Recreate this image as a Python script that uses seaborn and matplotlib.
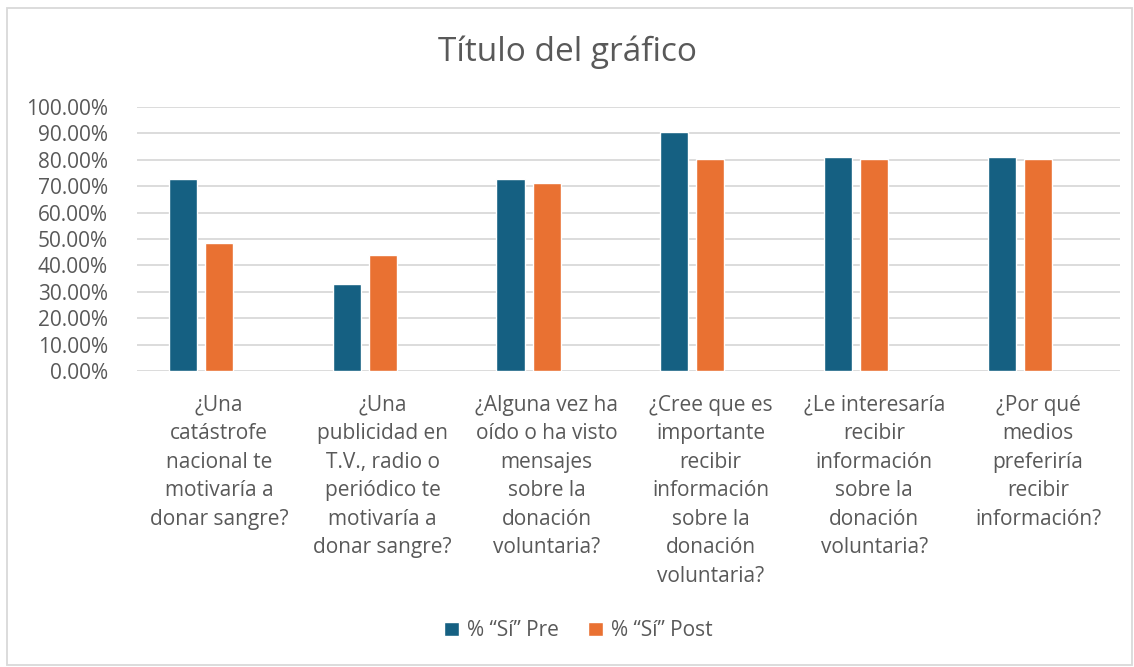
import pandas as pd
import matplotlib.pyplot as plt
import seaborn as sns
from matplotlib.ticker import FuncFormatter, MultipleLocator
from matplotlib.patches import Rectangle

# Data
preguntas = [
    "¿Una\ncatástrofe\nnacional te\nmotivaría a\ndonar sangre?",
    "¿Una\npublicidad en\nT.V., radio o\nperiódico te\nmotivaría a\ndonar sangre?",
    "¿Alguna vez ha\noído o ha visto\nmensajes\nsobre la\ndonación\nvoluntaria?",
    "¿Cree que es\nimportante\nrecibir\ninformación\nsobre la\ndonación\nvoluntaria?",
    "¿Le interesaría\nrecibir\ninformación\nsobre la\ndonación\nvoluntaria?",
    "¿Por qué\nmedios\npreferiría\nrecibir\ninformación?",
]
si_pre = [0.727, 0.330, 0.727, 0.905, 0.809, 0.809]
si_post = [0.485, 0.439, 0.712, 0.802, 0.802, 0.802]
series = ["% “Sí” Pre", "% “Sí” Post"]
# the Excel chart keeps an empty third series slot in every group
hue_order = series + ["(vacía)"]

df = pd.DataFrame({
    "pregunta": preguntas * 2,
    "valor": si_pre + si_post,
    "serie": [series[0]] * len(preguntas) + [series[1]] * len(preguntas),
})

sns.set_style("white")
plt.rcParams["font.family"] = ["Open Sans", "DejaVu Sans"]
text_color = "#595959"

fig = plt.figure(figsize=(11.34, 6.67), dpi=100)
ax = fig.add_axes([0.1208, 0.4438, 0.8669, 0.3958])

sns.barplot(data=df, x="pregunta", y="valor", hue="serie", hue_order=hue_order,
            palette=["#156082", "#E97132", "white"], saturation=1,
            width=0.66, gap=0.22, ax=ax, legend=True)

ax.set_ylim(0, 1.0)
ax.yaxis.set_major_locator(MultipleLocator(0.1))
ax.yaxis.set_major_formatter(FuncFormatter(lambda v, p: f"{v * 100:.2f}%"))
ax.grid(axis="y", color="#d9d9d9", linewidth=1.3)
ax.set_axisbelow(True)
for s in ax.spines.values():
    s.set_visible(False)
ax.tick_params(axis="y", length=0, pad=21, labelsize=15, labelcolor=text_color)
ax.tick_params(axis="x", length=0, pad=17, labelsize=15, labelcolor=text_color)
for lbl in ax.get_xticklabels():
    lbl.set_linespacing(1.47)
    lbl.set_verticalalignment("top")
ax.set_xlabel("")
ax.set_ylabel("")

fig.text(0.5, 0.922, "Título del gráfico", ha="center", va="center",
         fontsize=24, color=text_color)

handles, labels = ax.get_legend_handles_labels()
ax.legend_.remove()
fig.legend(handles[:2], labels[:2], loc="center", bbox_to_anchor=(0.51, 0.054),
           ncol=2, frameon=False, fontsize=15, labelcolor=text_color,
           handlelength=0.7, handleheight=0.7, handletextpad=0.4,
           columnspacing=1.4)

fig.patches.append(Rectangle((0.006, 0.003), 0.992, 0.985, transform=fig.transFigure,
                             fill=False, edgecolor="#d9d9d9", linewidth=1.3))

fig.savefig("out.png", dpi=100, facecolor="white")
